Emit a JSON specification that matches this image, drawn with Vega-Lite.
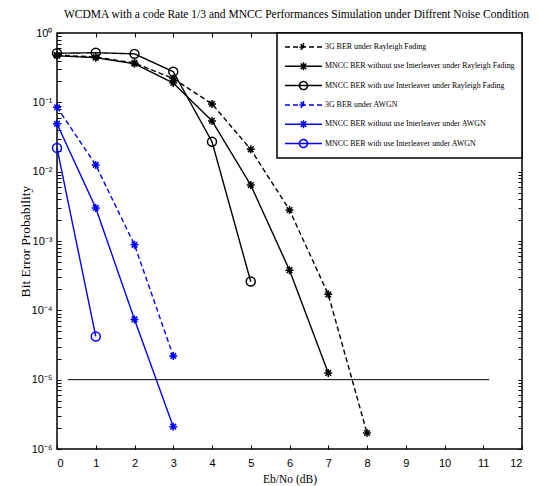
{
  "$schema": "https://vega.github.io/schema/vega-lite/v6.json",
  "width": 465,
  "height": 416,
  "autosize": {"type": "none"},
  "padding": {"left": 57, "top": 33, "right": 19, "bottom": 37},
  "background": "white",
  "title": {
    "text": "WCDMA with a code Rate 1/3 and MNCC Performances Simulation under Diffrent Noise Condition",
    "font": "Liberation Serif",
    "fontSize": 11.5,
    "fontWeight": "normal",
    "color": "black",
    "offset": 7,
    "dx": 7
  },
  "config": {
    "view": {"stroke": "black", "strokeWidth": 1.5},
    "axis": {
      "domain": false,
      "grid": false,
      "tickColor": "black",
      "tickWidth": 1,
      "labelColor": "black",
      "labelFont": "Liberation Sans",
      "labelFontSize": 11,
      "titleColor": "black",
      "titleFont": "Liberation Serif",
      "titleFontWeight": "normal",
      "titleFontSize": 12
    }
  },
  "datasets": {
    "ber": [
      {"series": "3G BER under Rayleigh Fading", "x": 0, "ber": 0.48},
      {"series": "3G BER under Rayleigh Fading", "x": 1, "ber": 0.45},
      {"series": "3G BER under Rayleigh Fading", "x": 2, "ber": 0.37},
      {"series": "3G BER under Rayleigh Fading", "x": 3, "ber": 0.22},
      {"series": "3G BER under Rayleigh Fading", "x": 4, "ber": 0.095},
      {"series": "3G BER under Rayleigh Fading", "x": 5, "ber": 0.021},
      {"series": "3G BER under Rayleigh Fading", "x": 6, "ber": 0.0028},
      {"series": "3G BER under Rayleigh Fading", "x": 7, "ber": 0.00017},
      {"series": "3G BER under Rayleigh Fading", "x": 8, "ber": 0.0000017},
      {"series": "MNCC BER without use Interleaver under Rayleigh Fading", "x": 0, "ber": 0.47},
      {"series": "MNCC BER without use Interleaver under Rayleigh Fading", "x": 1, "ber": 0.44},
      {"series": "MNCC BER without use Interleaver under Rayleigh Fading", "x": 2, "ber": 0.36},
      {"series": "MNCC BER without use Interleaver under Rayleigh Fading", "x": 3, "ber": 0.19},
      {"series": "MNCC BER without use Interleaver under Rayleigh Fading", "x": 4, "ber": 0.054},
      {"series": "MNCC BER without use Interleaver under Rayleigh Fading", "x": 5, "ber": 0.0064},
      {"series": "MNCC BER without use Interleaver under Rayleigh Fading", "x": 6, "ber": 0.00038},
      {"series": "MNCC BER without use Interleaver under Rayleigh Fading", "x": 7, "ber": 0.0000125},
      {"series": "MNCC BER with use Interleaver under Rayleigh Fading", "x": 0, "ber": 0.51},
      {"series": "MNCC BER with use Interleaver under Rayleigh Fading", "x": 1, "ber": 0.52},
      {"series": "MNCC BER with use Interleaver under Rayleigh Fading", "x": 2, "ber": 0.5},
      {"series": "MNCC BER with use Interleaver under Rayleigh Fading", "x": 3, "ber": 0.277},
      {"series": "MNCC BER with use Interleaver under Rayleigh Fading", "x": 4, "ber": 0.027},
      {"series": "MNCC BER with use Interleaver under Rayleigh Fading", "x": 5, "ber": 0.00026},
      {"series": "3G BER under AWGN", "x": 0, "ber": 0.085},
      {"series": "3G BER under AWGN", "x": 1, "ber": 0.0125},
      {"series": "3G BER under AWGN", "x": 2, "ber": 0.00088},
      {"series": "3G BER under AWGN", "x": 3, "ber": 0.000022},
      {"series": "MNCC BER without use Interleaver under AWGN", "x": 0, "ber": 0.049},
      {"series": "MNCC BER without use Interleaver under AWGN", "x": 1, "ber": 0.003},
      {"series": "MNCC BER without use Interleaver under AWGN", "x": 2, "ber": 0.000074},
      {"series": "MNCC BER without use Interleaver under AWGN", "x": 3, "ber": 0.0000021},
      {"series": "MNCC BER with use Interleaver under AWGN", "x": 0, "ber": 0.022},
      {"series": "MNCC BER with use Interleaver under AWGN", "x": 1, "ber": 0.000042}
    ],
    "limit": [
      {"x": 0.28, "x2": 11.15, "ber": 0.00001}
    ]
  },
  "layer": [
    {
      "data": {"name": "ber"},
      "mark": {"type": "line", "strokeWidth": 1.4},
      "encoding": {
        "x": {
          "field": "x", "type": "quantitative",
          "scale": {"domain": [0, 12], "nice": false, "zero": false},
          "axis": {
            "orient": "bottom",
            "title": "Eb/No (dB)",
            "values": [0,1,2,3,4,5,6,7,8,9,10,11,12],
            "tickSize": -4,
            "labelPadding": 12,
            "titlePadding": 5,
            "titleFont": "Liberation Serif",
            "titleFontSize": 11.5
          }
        },
        "y": {
          "field": "ber", "type": "quantitative",
          "scale": {"type": "log", "domain": [0.000001, 1], "nice": false},
          "axis": {
            "orient": "left",
            "title": "Bit Error Probability",
            "titleFont": "Liberation Serif",
            "titleFontSize": 13.5,
            "values": [0.000001,0.000002,0.000003,0.000004,0.000005,0.000006,0.000007,0.000008,0.000009,
                       0.00001,0.00002,0.00003,0.00004,0.00005,0.00006,0.00007,0.00008,0.00009,
                       0.0001,0.0002,0.0003,0.0004,0.0005,0.0006,0.0007,0.0008,0.0009,
                       0.001,0.002,0.003,0.004,0.005,0.006,0.007,0.008,0.009,
                       0.01,0.02,0.03,0.04,0.05,0.06,0.07,0.08,0.09,
                       0.1,0.2,0.3,0.4,0.5,0.6,0.7,0.8,0.9,1],
            "labelExpr": "abs(log(datum.value)/LN10 - round(log(datum.value)/LN10)) < 0.000001 ? '10' + ['⁰','⁻¹','⁻²','⁻³','⁻⁴','⁻⁵','⁻⁶'][-round(log(datum.value)/LN10)] : ''",
            "tickSize": -4,
            "labelPadding": 9,
            "titlePadding": -1,
            "labelOverlap": false
          }
        },
        "color": {
          "field": "series", "type": "nominal",
          "scale": {
            "domain": [
              "3G BER under Rayleigh Fading",
              "MNCC BER without use Interleaver under Rayleigh Fading",
              "MNCC BER with use Interleaver under Rayleigh Fading",
              "3G BER under AWGN",
              "MNCC BER without use Interleaver under AWGN",
              "MNCC BER with use Interleaver under AWGN"
            ],
            "range": ["#000000", "#000000", "#000000", "#0000ff", "#0000ff", "#0000ff"]
          },
          "legend": {
            "title": null,
            "orient": "top-right",
            "offset": 0,
            "padding": 7,
            "strokeColor": "black",
            "fillColor": "white",
            "labelFont": "Liberation Serif",
            "labelFontSize": 7.9,
            "labelColor": "black",
            "labelLimit": 400,
            "labelOffset": 27,
            "symbolSize": 144,
            "symbolStrokeWidth": 1.5,
            "symbolType": "stroke",
            "rowPadding": 3.3,
            "encode": {
              "symbols": {
                "update": {
                  "shape": {"signal": "indexof(datum.value, 'with use') >= 0 ? 'M-1,0L5.17,0M2.75,0A0.67,0.67,0,1,1,1.41,0A0.67,0.67,0,1,1,2.75,0' : 'M-1,0L5.17,0M2.08,-0.67L2.08,0.67M1.41,0L2.75,0M1.61,-0.47L2.55,0.47M1.61,0.47L2.55,-0.47'"}
                }
              },
              "legend": {"update": {"strokeWidth": {"value": 1.5}}}
            }
          }
        },
        "strokeDash": {
          "field": "series", "type": "nominal",
          "scale": {
            "domain": [
              "3G BER under Rayleigh Fading",
              "MNCC BER without use Interleaver under Rayleigh Fading",
              "MNCC BER with use Interleaver under Rayleigh Fading",
              "3G BER under AWGN",
              "MNCC BER without use Interleaver under AWGN",
              "MNCC BER with use Interleaver under AWGN"
            ],
            "range": [[5, 3], [1, 0], [1, 0], [5, 3], [1, 0], [1, 0]]
          },
          "legend": {
            "title": null,
            "orient": "top-right",
            "offset": 0,
            "padding": 7,
            "strokeColor": "black",
            "fillColor": "white",
            "labelFont": "Liberation Serif",
            "labelFontSize": 7.9,
            "labelColor": "black",
            "labelLimit": 400,
            "labelOffset": 27,
            "symbolSize": 144,
            "symbolStrokeWidth": 1.5,
            "symbolType": "stroke",
            "rowPadding": 3.3,
            "encode": {
              "symbols": {
                "update": {
                  "shape": {"signal": "indexof(datum.value, 'with use') >= 0 ? 'M-1,0L5.17,0M2.75,0A0.67,0.67,0,1,1,1.41,0A0.67,0.67,0,1,1,2.75,0' : 'M-1,0L5.17,0M2.08,-0.67L2.08,0.67M1.41,0L2.75,0M1.61,-0.47L2.55,0.47M1.61,0.47L2.55,-0.47'"}
                }
              },
              "legend": {"update": {"strokeWidth": {"value": 1.5}}}
            }
          }
        }
      }
    },
    {
      "data": {"name": "ber"},
      "transform": [{"filter": "indexof(datum.series, 'with use') < 0"}],
      "mark": {"type": "point", "filled": false, "strokeWidth": 1.5, "size": 64, "opacity": 1,
               "shape": "M0,-1L0,1M-1,0L1,0M-0.7,-0.7L0.7,0.7M-0.7,0.7L0.7,-0.7"},
      "encoding": {
        "x": {"field": "x", "type": "quantitative", "axis": null},
        "y": {"field": "ber", "type": "quantitative", "axis": null},
        "color": {"field": "series", "type": "nominal", "legend": null}
      }
    },
    {
      "data": {"name": "ber"},
      "transform": [{"filter": "indexof(datum.series, 'with use') >= 0"}],
      "mark": {"type": "point", "filled": false, "strokeWidth": 1.5, "size": 80, "opacity": 1, "shape": "circle"},
      "encoding": {
        "x": {"field": "x", "type": "quantitative", "axis": null},
        "y": {"field": "ber", "type": "quantitative", "axis": null},
        "color": {"field": "series", "type": "nominal", "legend": null}
      }
    },
    {
      "data": {"name": "limit"},
      "mark": {"type": "rule", "color": "black", "strokeWidth": 1},
      "encoding": {
        "x": {
          "field": "x", "type": "quantitative",
          "axis": {
            "orient": "top",
            "title": null,
            "labels": false,
            "values": [0,1,2,3,4,5,6,7,8,9,10,11,12],
            "tickSize": -4
          }
        },
        "x2": {"field": "x2"},
        "y": {
          "field": "ber", "type": "quantitative",
          "axis": {
            "orient": "right",
            "title": null,
            "labels": false,
            "values": [0.000001,0.000002,0.000003,0.000004,0.000005,0.000006,0.000007,0.000008,0.000009,
                       0.00001,0.00002,0.00003,0.00004,0.00005,0.00006,0.00007,0.00008,0.00009,
                       0.0001,0.0002,0.0003,0.0004,0.0005,0.0006,0.0007,0.0008,0.0009,
                       0.001,0.002,0.003,0.004,0.005,0.006,0.007,0.008,0.009,
                       0.01,0.02,0.03,0.04,0.05,0.06,0.07,0.08,0.09,
                       0.1,0.2,0.3,0.4,0.5,0.6,0.7,0.8,0.9,1],
            "tickSize": -4
          }
        }
      }
    }
  ],
  "resolve": {"axis": {"x": "independent", "y": "independent"}}
}
